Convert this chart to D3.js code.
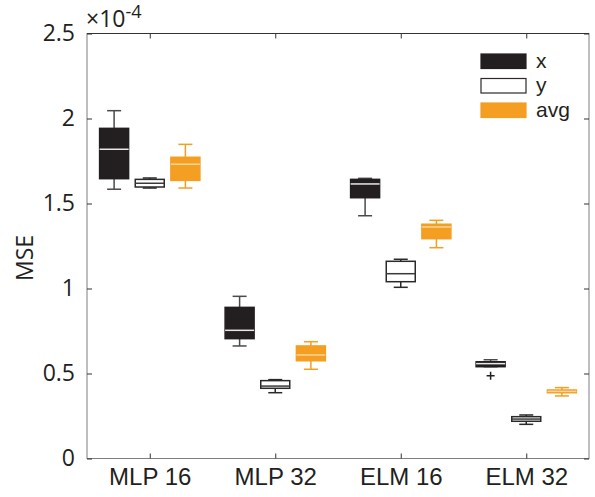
<!DOCTYPE html>
<html><head><meta charset="utf-8">
<script src="https://cdn.jsdelivr.net/npm/d3@7"></script>
<style>body{margin:0;background:#fff}svg{display:block}</style>
</head><body>
<script>
const categories = ["MLP 16", "MLP 32", "ELM 16", "ELM 32"];
const seriesNames = ["x", "y", "avg"];
// [whiskerLow, q1, median, q3, whiskerHigh] in units of 1e-4
const xStats = [
  [1.584, 1.646, 1.819, 1.942, 2.046],
  [0.662, 0.705, 0.754, 0.889, 0.954],
  [1.428, 1.534, 1.615, 1.642, 1.648],
  [0.540, 0.540, 0.558, 0.569, 0.581]
];
const yStats = [
  [1.591, 1.597, 1.619, 1.642, 1.650],
  [0.387, 0.413, 0.426, 0.458, 0.464],
  [1.007, 1.040, 1.087, 1.160, 1.172],
  [0.201, 0.219, 0.232, 0.246, 0.256]
];
const avgStats = [
  [1.591, 1.636, 1.731, 1.772, 1.848],
  [0.525, 0.575, 0.609, 0.662, 0.687],
  [1.240, 1.293, 1.362, 1.378, 1.401],
  [0.368, 0.387, 0.395, 0.403, 0.417]
];
const outliers = [{cat: 3, series: 0, value: 0.487}];
const yTicks = [0, 0.5, 1, 1.5, 2, 2.5];
const yTickLabels = ["0", "0.5", "1", "1.5", "2", "2.5"];

const W = 595, H = 497;
const svg = d3.select("body").append("svg").attr("width", W).attr("height", H);
const mLeft = 87, mRight = 589, mTop = 33.5, mBottom = 458.5;

const x = d3.scaleLinear().domain([0.5, 4.5]).range([mLeft, mRight]);
const y = d3.scaleLinear().domain([0, 2.5]).range([mBottom, mTop]);

const styles = [
  {fill: "#231f20", stroke: "#231f20", whisker: "#4a4a4a", median: "#e8e8e8"},
  {fill: "#ffffff", stroke: "#2a2a2a", whisker: "#2a2a2a", median: "#3a3a3a"},
  {fill: "#f49e22", stroke: "#f49e22", whisker: "#f49e22", median: "#fbd49a"}
];
const allStats = [xStats, yStats, avgStats];
const boxW = 29, offset = 0.284, capW = 14;
const sansFont = "'Open Sans', 'DejaVu Sans', sans-serif";

const g = svg.append("g");
allStats.forEach((stats, si) => {
  const st = styles[si];
  stats.forEach((s, ci) => {
    const cx = x(ci + 1 + (si - 1) * offset);
    const [wl, q1, md, q3, wh] = s;
    g.append("line").attr("x1", cx).attr("x2", cx).attr("y1", y(wh)).attr("y2", y(q3))
      .attr("stroke", st.whisker).attr("stroke-width", 1.5);
    g.append("line").attr("x1", cx).attr("x2", cx).attr("y1", y(q1)).attr("y2", y(wl))
      .attr("stroke", st.whisker).attr("stroke-width", 1.5);
    [wh, wl].forEach(v => g.append("line").attr("x1", cx - capW/2).attr("x2", cx + capW/2)
      .attr("y1", y(v)).attr("y2", y(v)).attr("stroke", st.whisker).attr("stroke-width", 1.5));
    g.append("rect").attr("x", cx - boxW/2).attr("width", boxW)
      .attr("y", y(q3)).attr("height", Math.max(1, y(q1) - y(q3)))
      .attr("fill", st.fill).attr("stroke", st.stroke).attr("stroke-width", 1.5);
    g.append("line").attr("x1", cx - boxW/2).attr("x2", cx + boxW/2)
      .attr("y1", y(md)).attr("y2", y(md)).attr("stroke", st.median).attr("stroke-width", 1.5);
  });
});
outliers.forEach(o => {
  const cx = x(o.cat + 1 + (o.series - 1) * offset), cy = y(o.value);
  g.append("path").attr("d", `M${cx-4},${cy}H${cx+4}M${cx},${cy-4}V${cy+4}`)
    .attr("stroke", "#231f20").attr("stroke-width", 1.5);
});

const axisColor = "#7f7f7f";
svg.append("rect").attr("x", mLeft).attr("y", mTop).attr("width", mRight - mLeft).attr("height", mBottom - mTop)
  .attr("fill", "none").attr("stroke", axisColor).attr("stroke-width", 1);
svg.append("line").attr("x1", mLeft).attr("x2", mRight).attr("y1", mTop).attr("y2", mTop)
  .attr("stroke", "#333").attr("stroke-width", 1);

const yAxis = d3.axisLeft(y).tickValues(yTicks).tickSize(-5).tickPadding(12)
  .tickFormat((d, i) => yTickLabels[i]);
const ya = svg.append("g").attr("transform", `translate(${mLeft},0)`).call(yAxis);
ya.select(".domain").remove();
ya.selectAll("line").attr("stroke", "#333");
ya.selectAll("text").attr("font-family", sansFont)
  .attr("font-size", 23).attr("fill", "#231f20");
const yr = svg.append("g").attr("transform", `translate(${mRight},0)`)
  .call(d3.axisRight(y).tickValues(yTicks).tickSize(-5).tickFormat(""));
yr.select(".domain").remove();
yr.selectAll("line").attr("stroke", "#333");

const xAxis = d3.axisBottom(x).tickValues([1, 2, 3, 4]).tickSize(-5).tickPadding(9)
  .tickFormat((d, i) => categories[i]);
const xa = svg.append("g").attr("transform", `translate(0,${mBottom})`).call(xAxis);
xa.select(".domain").remove();
xa.selectAll("line").attr("stroke", "#333");
xa.selectAll("text").attr("font-family", "'Liberation Sans', Arial, sans-serif")
  .attr("font-size", 24).attr("fill", "#231f20");
const xt = svg.append("g").attr("transform", `translate(0,${mTop})`)
  .call(d3.axisTop(x).tickValues([1, 2, 3, 4]).tickSize(-5).tickFormat(""));
xt.select(".domain").remove();
xt.selectAll("line").attr("stroke", "#333");

const ex = svg.append("text").attr("x", mLeft - 1).attr("y", 27)
  .attr("font-family", sansFont).attr("font-size", 23).attr("fill", "#231f20");
ex.append("tspan").text("×10");
ex.append("tspan").attr("dy", -9).attr("font-size", 18).text("-4");

svg.append("text").attr("transform", `translate(33,258) rotate(-90)`).attr("text-anchor", "middle")
  .attr("font-family", sansFont).attr("font-size", 23).attr("fill", "#231f20")
  .text("MSE");

const legend = svg.append("g");
seriesNames.forEach((name, i) => {
  const ly = 54 + i * 24.5;
  legend.append("rect").attr("x", 481).attr("y", ly).attr("width", 45).attr("height", 14.5)
    .attr("fill", styles[i].fill).attr("stroke", i === 1 ? "#2a2a2a" : styles[i].fill).attr("stroke-width", 1.2);
  legend.append("text").attr("x", 536).attr("y", ly + 7).attr("dy", "0.32em")
    .attr("font-family", "'Liberation Sans', Arial, sans-serif").attr("font-size", 21).attr("fill", "#231f20")
    .text(name);
});
</script>
</body></html>
